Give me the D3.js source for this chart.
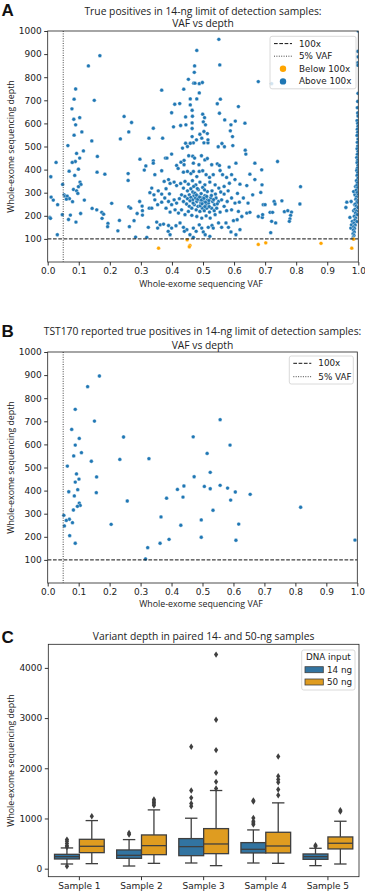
<!DOCTYPE html>
<html><head><meta charset="utf-8">
<script src="https://cdn.jsdelivr.net/npm/d3@7"></script>
<style>body{margin:0;background:#fff} svg{display:block}</style>
</head><body><svg id="c" width="365" height="892"></svg>
<script>
// ---------- DATA ----------
const depthTicks = [100,200,300,400,500,600,700,800,900,1000];
const vafTicks = [0,0.1,0.2,0.3,0.4,0.5,0.6,0.7,0.8,0.9,1.0];

// Panel A: points with depth >= 100 ([VAF, depth])
const aboveLeft = [[0.168,893],[0.131,849],[0.090,749],[0.150,700],[0.085,705],[0.078,663],[0.103,625],[0.084,618],[0.090,594],[0.110,563],[0.085,549],[0.142,524],[0.246,630],[0.270,604],[0.261,563],[0.234,533],[0.326,536],[0.065,504],[0.115,481],[0.093,470],[0.160,457],[0.103,450],[0.089,435],[0.079,431],[0.099,402],[0.069,393],[0.159,389],[0.184,380],[0.027,431],[0.010,369],[0.087,375],[0.259,383],[0.259,353],[0.297,445],[0.316,416],[0.311,398],[0.048,336],[0.104,346],[0.107,336],[0.099,326],[0.083,314],[0.093,308],[0.097,297],[0.053,291],[0.057,285],[0.063,285],[0.070,274],[0.060,272],[0.080,261],[0.118,268],[0.011,281],[0.018,268],[0.032,248],[0.206,254],[0.296,262],[0.304,242],[0.007,193],[0.009,189],[0.047,205],[0.073,203],[0.067,184],[0.091,173],[0.106,210],[0.143,232],[0.158,226],[0.174,215],[0.180,207],[0.175,189],[0.194,167],[0.193,153],[0.231,180],[0.226,135],[0.278,179],[0.288,210],[0.305,222],[0.263,153],[0.283,108],[0.324,150],[0.319,107],[0.031,118],[0.261,239],[0.267,233],[0.305,203],[0.327,233]];
const aboveMid = [[0.551,964],[0.480,916],[0.473,849],[0.472,821],[0.554,853],[0.453,791],[0.470,774],[0.474,774],[0.488,772],[0.498,777],[0.367,744],[0.438,748],[0.488,732],[0.409,683],[0.425,686],[0.459,706],[0.480,706],[0.546,685],[0.556,705],[0.614,673],[0.459,680],[0.465,657],[0.399,646],[0.499,640],[0.553,644],[0.444,628],[0.466,631],[0.505,625],[0.570,615],[0.604,610],[0.405,585],[0.428,591],[0.445,594],[0.465,602],[0.501,607],[0.508,594],[0.590,594],[0.635,601],[0.465,578],[0.503,565],[0.588,568],[0.340,579],[0.370,536],[0.465,543],[0.490,553],[0.514,556],[0.595,543],[0.496,536],[0.479,529],[0.469,516],[0.459,514],[0.444,514],[0.503,516],[0.516,516],[0.516,529],[0.561,513],[0.549,499],[0.569,499],[0.434,493],[0.450,500],[0.596,504],[0.636,484],
[0.379,450],[0.384,450],[0.340,438],[0.340,428],[0.399,467],[0.454,460],[0.467,458],[0.473,450],[0.495,460],[0.506,442],[0.514,448],[0.439,440],[0.429,432],[0.415,418],[0.439,421],[0.469,428],[0.487,421],[0.528,421],[0.546,425],[0.553,418],[0.584,411],[0.606,428],[0.638,467],[0.345,378],[0.367,395],[0.389,357],[0.394,340],[0.420,405],[0.437,389],[0.450,392],[0.461,383],[0.469,392],[0.480,370],[0.488,392],[0.499,395],[0.510,378],[0.521,366],[0.533,378],[0.555,396],[0.563,378],[0.576,366],[0.592,378],[0.603,357],[0.619,337],[0.641,331],[0.375,349],[0.407,346],[0.415,331],[0.428,340],[0.442,349],[0.453,337],[0.466,352],[0.477,334],[0.490,346],[0.506,334],[0.522,346],[0.539,334],[0.551,320],[0.568,327],[0.585,341],[0.335,320],[0.356,308],[0.381,317],[0.437,320],[0.450,308],[0.461,317],[0.467,303],[0.485,313],[0.499,323],[0.514,305],[0.529,308],[0.540,294],[0.557,303],[0.568,294],[0.581,308],[0.611,297],[0.329,300],[0.342,291],[0.367,294],[0.392,295],
[0.431,291],[0.442,284],[0.450,274],[0.456,291],[0.461,280],[0.467,269],[0.471,287],[0.476,277],[0.480,262],[0.485,284],[0.488,269],[0.493,255],[0.497,277],[0.501,262],[0.506,287],[0.510,248],[0.514,269],[0.518,255],[0.525,277],[0.531,262],[0.537,248],[0.542,277],[0.550,262],[0.560,269],[0.437,262],[0.447,251],[0.456,241],[0.464,233],[0.472,248],[0.478,226],[0.484,241],[0.490,219],[0.498,233],[0.504,222],[0.512,233],[0.521,216],[0.528,233],[0.536,222],[0.544,233],[0.424,274],[0.415,255],[0.407,269],[0.399,248],[0.389,262],[0.377,277],[0.367,259],[0.354,248],[0.345,269],[0.335,233],[0.381,233],[0.394,216],[0.410,226],[0.421,212],[0.431,226],[0.442,205],[0.453,219],[0.464,202],[0.480,197],[0.496,190],[0.510,200],[0.523,190],[0.539,205],[0.555,216],[0.568,241],[0.578,262],[0.592,277],[0.603,255],[0.617,259],[0.630,277],[0.645,255],[0.576,222],[0.592,226],[0.614,219],[0.625,197],[0.641,212],
[0.474,298],[0.479,290],[0.483,272],[0.489,281],[0.494,296],[0.495,268],[0.503,276],[0.508,259],[0.512,284],[0.519,266],[0.527,288],[0.491,243],[0.497,252],[0.506,240],[0.468,255],[0.458,265],[0.520,240],[0.534,270],[0.546,252],[0.482,318],[0.505,312],[0.470,327],
[0.351,173],[0.362,161],[0.373,164],[0.389,158],[0.354,147],[0.399,147],[0.413,157],[0.426,169],[0.437,150],[0.448,140],[0.440,133],[0.469,147],[0.478,133],[0.488,161],[0.496,147],[0.501,130],[0.507,118],[0.517,150],[0.529,158],[0.533,147],[0.550,169],[0.560,150],[0.574,169],[0.582,150],[0.598,179],[0.610,183],[0.606,118],[0.619,140],[0.590,130],[0.522,111],[0.458,118],[0.394,118],[0.469,107],[0.388,133]];
const aboveRight = [[0.678,781],[0.721,772],[0.667,428],[0.651,380],[0.689,399],[0.667,357],[0.690,334],[0.740,435],[0.660,291],[0.686,301],[0.694,248],[0.700,248],[0.729,262],[0.732,251],[0.754,265],[0.814,326],[0.812,251],[0.651,215],[0.678,197],[0.691,193],[0.692,205],[0.716,215],[0.724,215],[0.721,176],[0.734,169],[0.762,218],[0.773,222],[0.785,216],[0.782,202],[0.780,187],[0.778,176],[0.718,127],
[0.960,236],[0.963,259],[0.973,193],[0.976,147],[0.978,161],[0.981,176],[0.985,222],[0.988,248],[0.989,291],[0.991,327],[0.985,305],[0.977,262],
[1.0,1000],[0.998,912],[0.999,888],[0.997,862],[0.998,852],[0.999,730],[0.998,695],[0.997,668],[0.998,645],[0.999,632],[0.996,612],[0.998,600],[0.999,588],[0.997,575],[0.998,562],[0.996,548],[0.999,532],[0.997,518],[0.998,502],[0.996,490],[0.999,478],[0.997,466],[0.995,452],[0.998,441],[0.996,430],[0.999,418],[0.997,406],[0.995,396],[0.998,386],[0.996,375],[0.999,363],[0.994,352],[0.997,342],[0.995,331],[0.998,321],[0.993,311],[0.996,300],[0.999,290],[0.994,281],[0.992,272],[0.997,265],[0.995,257],[0.990,250],[0.993,242],[0.998,236],[0.989,228],[0.994,220],[0.991,212],[0.996,205],[0.987,198],[0.992,190],[0.989,182],[0.995,175],[0.986,168],[0.990,160],[0.985,152],[0.988,145],[0.984,138],[0.987,130],[0.983,122],[0.986,115],[0.984,108],[0.983,102]];
// Panel A: points with depth < 100
const belowA = [[0.357,60],[0.449,96],[0.458,72],[0.456,66],[0.678,76],[0.702,83],[0.880,81],[0.979,60],[0.985,99]];

// Panel B: TST170 reported true positives
const tst170 = [[0.167,896],[0.129,850],[0.089,752],[0.151,701],[0.0775,665],[0.102,626],[0.089,597],[0.109,564],[0.084,550],[0.141,527],[0.0635,506],[0.093,472],[0.101,450],[0.089,437],[0.158,459],[0.097,404],[0.068,395],[0.086,377],[0.157,391],[0.102,346],[0.105,336],[0.096,332],[0.083,316],[0.052,293],[0.070,276],[0.060,271],[0.054,247],[0.080,261],[0.071,205],[0.089,172],[0.205,254],[0.245,632],[0.233,535],[0.257,355],[0.327,538],[0.323,153],[0.316,104],[0.366,286],[0.363,172],[0.384,367],[0.392,189],[0.419,405],[0.440,420],[0.437,372],[0.430,250],[0.470,633],[0.473,460],[0.506,418],[0.515,561],[0.496,273],[0.496,198],[0.525,479],[0.525,408],[0.534,315],[0.557,707],[0.557,423],[0.589,597],[0.581,411],[0.606,394],[0.591,359],[0.617,255],[0.608,185],[0.654,384],[0.817,328],[0.9925,186]];

// Panel C: box statistics per sample [low whisker, Q1, median, Q3, high whisker]
const samples = ["Sample 1","Sample 2","Sample 3","Sample 4","Sample 5"];
const inputs = ["14 ng","50 ng"];
const box14 = [[93,193,240,286,413],[53,206,266,373,579],[113,259,439,599,1005],[113,313,386,519,772],[60,186,240,293,406]];
const box50 = [[100,319,446,585,958],[106,279,459,672,1171],[60,299,492,798,1557],[106,313,452,725,1311],[93,393,506,632,945]];
const out14 = [[47,432,459,499,546,579],[679,712],[1244,1297,1411,1557,2428],[878,911,945,1011,1337,1357],[446,466]];
const out50 = [[1045],[1260,1290,1320,1350,1380],[1597,1730,1909,2362,2967,4265],[1464,1577,1723,1776,1843,2236],[1138,1164]];
const depthTicksC = [0,1000,2000,3000,4000];

// ---------- STYLE ----------
const BLUE = "#1f77b4", ORANGE = "#ffa500";
const BOX_BLUE = "#3274a1", BOX_ORANGE = "#df9c20", GRAY = "#3f3f3f";
const TICKFONT = "DejaVu Sans, sans-serif";
const LABFONT = "'Open Sans', sans-serif";

const svg = d3.select("#c");

function frameAxes(g, x, y, f, xt, yt, xfmt, yfmt) {
  const ya = g.append("g").attr("transform", `translate(${f.l},0)`)
    .call(d3.axisLeft(y).tickValues(yt).tickSize(3.5).tickPadding(2.5).tickFormat(yfmt));
  const xa = g.append("g").attr("transform", `translate(0,${f.b})`)
    .call(d3.axisBottom(x).tickValues(xt).tickSize(3.5).tickPadding(2.5).tickFormat(xfmt));
  [ya, xa].forEach(a => {
    a.select(".domain").remove();
    a.selectAll("line").attr("stroke", "#000").attr("stroke-width", 0.8);
    a.selectAll("text").attr("font-family", TICKFONT).attr("font-size", 9).attr("fill", "#222");
  });
  g.append("rect").attr("x", f.l).attr("y", f.t).attr("width", f.r - f.l).attr("height", f.b - f.t)
    .attr("fill", "none").attr("stroke", "#222").attr("stroke-width", 0.8);
}

function title(lines, cx, ys) {
  lines.forEach((t, i) => svg.append("text").attr("x", cx).attr("y", ys[i]).attr("text-anchor", "middle")
    .attr("font-family", LABFONT).attr("font-size", 10.3).attr("fill", "#222").text(t));
}
function letter(t, x, y) {
  svg.append("text").attr("x", x).attr("y", y).attr("font-family", "'Liberation Sans', Arial, sans-serif").attr("font-weight", "bold")
    .attr("font-size", 17).attr("fill", "#111").text(t);
}
function ylabel(t, x, cy) {
  svg.append("text").attr("transform", `translate(${x},${cy}) rotate(-90)`).attr("text-anchor", "middle")
    .attr("dominant-baseline", "central").attr("font-family", LABFONT).attr("font-size", 8.8).attr("fill", "#222").text(t);
}
function xlabel(t, cx, y) {
  svg.append("text").attr("x", cx).attr("y", y).attr("text-anchor", "middle")
    .attr("font-family", LABFONT).attr("font-size", 8.8).attr("fill", "#222").text(t);
}

function scatterPanel(id, f, above, below, legendBox, withDots) {
  const g = svg.append("g");
  const x = d3.scaleLinear().domain([0, 1]).range([f.l, f.r]);
  const y = d3.scaleLinear().domain([0, 1000]).range([f.b, f.t]);
  svg.append("clipPath").attr("id", id).append("rect").attr("x", f.l).attr("y", f.t).attr("width", f.r - f.l).attr("height", f.b - f.t);
  const pg = g.append("g").attr("clip-path", `url(#${id})`);
  pg.selectAll("circle.a").data(above).join("circle").attr("class", "a")
    .attr("cx", d => x(d[0])).attr("cy", d => y(d[1])).attr("r", 1.9)
    .attr("fill", BLUE).attr("stroke", "#fff").attr("stroke-width", 0.35);
  pg.selectAll("circle.b").data(below).join("circle").attr("class", "b")
    .attr("cx", d => x(d[0])).attr("cy", d => y(d[1])).attr("r", 1.9)
    .attr("fill", ORANGE).attr("stroke", "#fff").attr("stroke-width", 0.35);
  pg.append("line").attr("x1", f.l).attr("x2", f.r).attr("y1", y(100)).attr("y2", y(100))
    .attr("stroke", "#111").attr("stroke-width", 1).attr("stroke-dasharray", "3.7,1.6");
  pg.append("line").attr("x1", x(0.05)).attr("x2", x(0.05)).attr("y1", f.t).attr("y2", f.b)
    .attr("stroke", "#444").attr("stroke-width", 1).attr("stroke-dasharray", "1,1.4");
  frameAxes(g, x, y, f, vafTicks, depthTicks, d3.format(".1f"), d3.format("d"));
  const L = legendBox;
  const lg = svg.append("g");
  lg.append("rect").attr("x", L.x).attr("y", L.y).attr("width", L.w).attr("height", L.h).attr("rx", 2)
    .attr("fill", "#fff").attr("fill-opacity", 0.8).attr("stroke", "#d0d0d0").attr("stroke-width", 0.8);
  const items = [{t: "100x", k: "dash"}, {t: "5% VAF", k: "dot"}];
  if (withDots) items.push({t: "Below 100x", k: "c", c: ORANGE}, {t: "Above 100x", k: "c", c: BLUE});
  items.forEach((it, i) => {
    const yy = L.y + 7.3 + i * L.step;
    if (it.k === "dash") lg.append("line").attr("x1", L.x + 4).attr("x2", L.x + 22).attr("y1", yy).attr("y2", yy)
      .attr("stroke", "#111").attr("stroke-width", 1).attr("stroke-dasharray", "3.7,1.6");
    else if (it.k === "dot") lg.append("line").attr("x1", L.x + 4).attr("x2", L.x + 22).attr("y1", yy).attr("y2", yy)
      .attr("stroke", "#444").attr("stroke-width", 1).attr("stroke-dasharray", "1,1.4");
    else lg.append("circle").attr("cx", L.x + 13).attr("cy", yy).attr("r", 3.2).attr("fill", it.c);
    lg.append("text").attr("x", L.x + 29).attr("y", yy).attr("dominant-baseline", "central")
      .attr("font-family", TICKFONT).attr("font-size", 8.8).attr("fill", "#222").text(it.t);
  });
}

// ---------- PANEL A ----------
const fA = {l: 47.7, r: 358.3, t: 31, b: 262};
scatterPanel("clipA", fA, aboveLeft.concat(aboveMid, aboveRight), belowA, {x: 270, y: 36.3, w: 86, h: 52.5, step: 12.6}, true);
title(["True positives in 14-ng limit of detection samples:", "VAF vs depth"], 203, [14.5, 27]);
letter("A", 1.5, 15.8);
ylabel("Whole-exome sequencing depth", 11, 146.5);
xlabel("Whole-exome sequencing VAF", 201, 286.5);

// ---------- PANEL B ----------
const fB = {l: 47.7, r: 357.3, t: 352, b: 583};
scatterPanel("clipB", fB, tst170, [], {x: 289.3, y: 356, w: 64, h: 28, step: 13.4}, false);
title(["TST170 reported true positives in 14-ng limit of detection samples:", "VAF vs depth"], 202.5, [335, 348.5]);
letter("B", 1.5, 337);
ylabel("Whole-exome sequencing depth", 11, 467.5);
xlabel("Whole-exome sequencing VAF", 201, 606.5);

// ---------- PANEL C ----------
const fC = {l: 48.3, r: 359, t: 644.3, b: 876.7};
const xC = d3.scaleBand().domain(samples).range([fC.l, fC.r]);
const xSub = d3.scaleBand().domain(inputs).range([-0.4 * xC.bandwidth(), 0.4 * xC.bandwidth()]);
const yC = d3.scaleLinear().domain([-160, 4470]).range([fC.b, fC.t]);
const gC = svg.append("g");
function drawBoxes(stats, outs, key, color) {
  stats.forEach((s, i) => {
    const cx = xC(samples[i]) + xC.bandwidth() / 2 + xSub(key) + xSub.bandwidth() / 2;
    const bw = xSub.bandwidth();
    const [lo, q1, med, q3, hi] = s;
    const g = gC.append("g");
    g.append("line").attr("x1", cx).attr("x2", cx).attr("y1", yC(lo)).attr("y2", yC(q1)).attr("stroke", GRAY).attr("stroke-width", 1.3);
    g.append("line").attr("x1", cx).attr("x2", cx).attr("y1", yC(q3)).attr("y2", yC(hi)).attr("stroke", GRAY).attr("stroke-width", 1.3);
    [lo, hi].forEach(v => g.append("line").attr("x1", cx - bw / 4).attr("x2", cx + bw / 4).attr("y1", yC(v)).attr("y2", yC(v)).attr("stroke", GRAY).attr("stroke-width", 1.3));
    g.append("rect").attr("x", cx - bw / 2).attr("y", yC(q3)).attr("width", bw).attr("height", yC(q1) - yC(q3))
      .attr("fill", color).attr("stroke", GRAY).attr("stroke-width", 1.3);
    g.append("line").attr("x1", cx - bw / 2).attr("x2", cx + bw / 2).attr("y1", yC(med)).attr("y2", yC(med)).attr("stroke", GRAY).attr("stroke-width", 1.3);
    g.selectAll("path").data(outs[i]).join("path")
      .attr("d", "M0,-3.2L2.1,0L0,3.2L-2.1,0Z").attr("transform", v => `translate(${cx},${yC(v)})`).attr("fill", GRAY);
  });
}
drawBoxes(box14, out14, "14 ng", BOX_BLUE);
drawBoxes(box50, out50, "50 ng", BOX_ORANGE);
frameAxes(gC, xC, yC, fC, samples, depthTicksC, d => d, d3.format("d"));
title(["Variant depth in paired 14- and 50-ng samples"], 203.6, [639.5]);
letter("C", 1.5, 643);
ylabel("Whole-exome sequencing depth", 11, 760.5);
const lgC = svg.append("g");
lgC.append("rect").attr("x", 301.7).attr("y", 650).attr("width", 53.3).attr("height", 40).attr("rx", 2)
  .attr("fill", "#fff").attr("fill-opacity", 0.8).attr("stroke", "#d0d0d0").attr("stroke-width", 0.8);
lgC.append("text").attr("x", 328.3).attr("y", 659.5).attr("text-anchor", "middle").attr("font-family", TICKFONT)
  .attr("font-size", 8.8).attr("fill", "#222").text("DNA input");
inputs.forEach((t, i) => {
  const yy = 669.7 + i * 12.3;
  lgC.append("rect").attr("x", 305).attr("y", yy - 3).attr("width", 18.3).attr("height", 6)
    .attr("fill", i ? BOX_ORANGE : BOX_BLUE).attr("stroke", GRAY).attr("stroke-width", 0.8);
  lgC.append("text").attr("x", 327).attr("y", yy).attr("dominant-baseline", "central").attr("font-family", TICKFONT)
    .attr("font-size", 8.8).attr("fill", "#222").text(t);
});
</script></body></html>
